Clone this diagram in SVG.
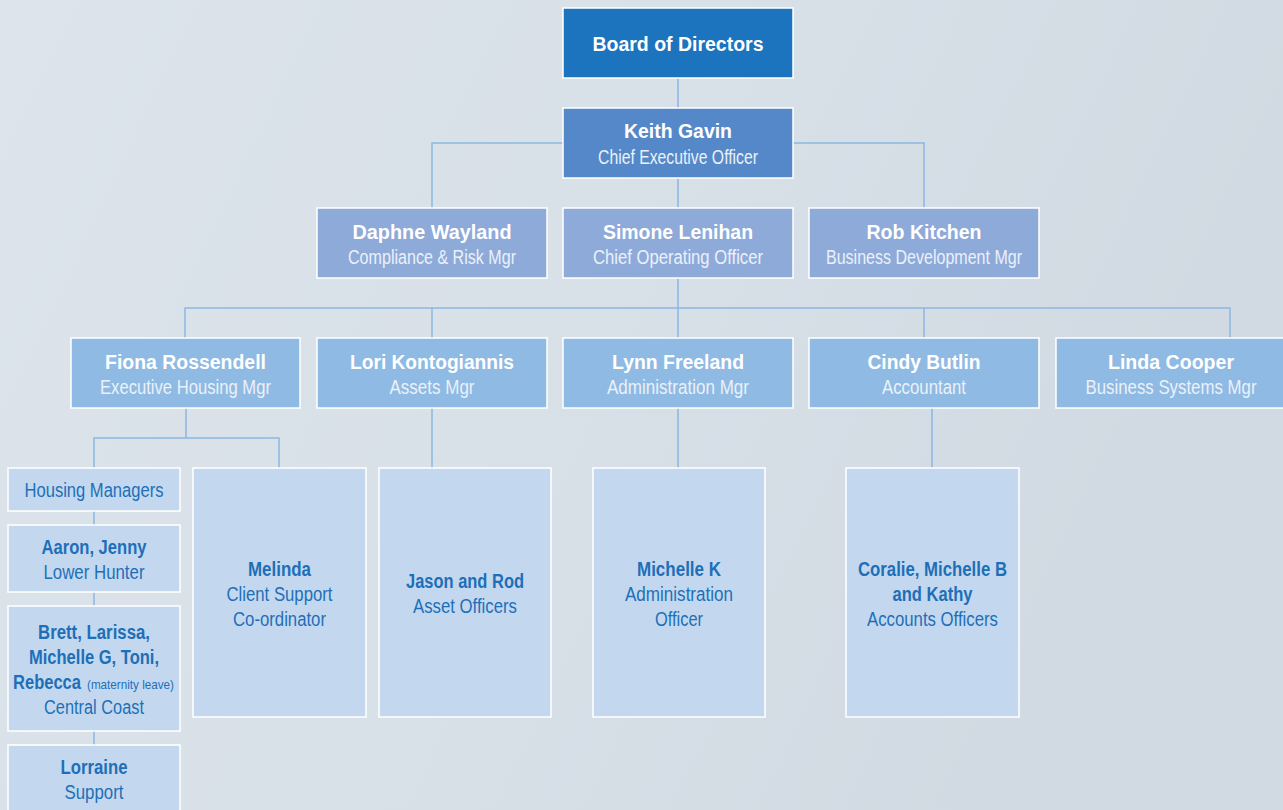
<svg xmlns="http://www.w3.org/2000/svg" width="1283" height="810" viewBox="0 0 1283 810">
  <defs>
    <linearGradient id="bg" x1="0" y1="0" x2="1" y2="0.3">
      <stop offset="0" stop-color="#dde4eb"/>
      <stop offset="0.5" stop-color="#d8e0e8"/>
      <stop offset="1" stop-color="#d1dae2"/>
    </linearGradient>
    <style>
      .box { stroke: #ffffff; stroke-width: 1.5; }
      .board { fill: #1b74bd; }
      .ceo { fill: #5588c8; }
      .lvl2 { fill: #8eaad9; }
      .lvl3 { fill: #8fbae3; }
      .lvl4 { fill: #c3d8ef; }
      .conn { stroke: #8ab6e2; stroke-width: 1.5; fill: none; }
      .name { font-family: "Liberation Sans", Arial, sans-serif; font-weight: bold; font-size: 19.5px; fill: #ffffff; text-anchor: middle; }
      .role { font-family: "Liberation Sans", Arial, sans-serif; font-size: 20px; fill: #eaf1f9; text-anchor: middle; }
      .bname { font-family: "Liberation Sans", Arial, sans-serif; font-weight: bold; font-size: 20px; fill: #1e6fb8; text-anchor: middle; }
      .brole { font-family: "Liberation Sans", Arial, sans-serif; font-size: 20px; fill: #1e6fb8; text-anchor: middle; }
      .note { font-family: "Liberation Sans", Arial, sans-serif; font-size: 13px; fill: #1e6fb8; }
    </style>
  </defs>

  <rect x="0" y="0" width="1283" height="810" fill="url(#bg)"/>

  <!-- connectors -->
  <g id="connectors" class="conn">
    <path d="M678 78 V108"/>
    <path d="M563 143 H432 V208"/>
    <path d="M793 143 H924 V208"/>
    <path d="M678 178 V208"/>
    <path d="M678 278 V338"/>
    <path d="M185 338 V308 H1230 V338"/>
    <path d="M432 308 V338"/>
    <path d="M924 308 V338"/>
    <path d="M186 408 V438"/>
    <path d="M94 468 V438 H279 V468"/>
    <path d="M94 511 V525"/>
    <path d="M94 592 V606"/>
    <path d="M94 731 V745"/>
    <path d="M432 408 V468"/>
    <path d="M678 408 V468"/>
    <path d="M932 408 V468"/>
  </g>

  <g id="board">
    <rect class="box board" x="563" y="8" width="230" height="70"/>
    <text class="name" x="678" y="51" textLength="171" lengthAdjust="spacingAndGlyphs">Board of Directors</text>
  </g>

  <g id="keith-gavin">
    <rect class="box ceo" x="563" y="108" width="230" height="70"/>
    <text class="name" x="678" y="138" textLength="108" lengthAdjust="spacingAndGlyphs">Keith Gavin</text>
    <text class="role" x="678" y="164" textLength="160" lengthAdjust="spacingAndGlyphs">Chief Executive Officer</text>
  </g>

  <g id="daphne-wayland">
    <rect class="box lvl2" x="317" y="208" width="230" height="70"/>
    <text class="name" x="432" y="239" textLength="159" lengthAdjust="spacingAndGlyphs">Daphne Wayland</text>
    <text class="role" x="432" y="264" textLength="168" lengthAdjust="spacingAndGlyphs">Compliance &amp; Risk Mgr</text>
  </g>

  <g id="simone-lenihan">
    <rect class="box lvl2" x="563" y="208" width="230" height="70"/>
    <text class="name" x="678" y="239" textLength="150" lengthAdjust="spacingAndGlyphs">Simone Lenihan</text>
    <text class="role" x="678" y="264" textLength="170" lengthAdjust="spacingAndGlyphs">Chief Operating Officer</text>
  </g>

  <g id="rob-kitchen">
    <rect class="box lvl2" x="809" y="208" width="230" height="70"/>
    <text class="name" x="924" y="239" textLength="115" lengthAdjust="spacingAndGlyphs">Rob Kitchen</text>
    <text class="role" x="924" y="264" textLength="196" lengthAdjust="spacingAndGlyphs">Business Development Mgr</text>
  </g>

  <g id="fiona-rossendell">
    <rect class="box lvl3" x="71" y="338" width="229" height="70"/>
    <text class="name" x="185.5" y="369" textLength="161" lengthAdjust="spacingAndGlyphs">Fiona Rossendell</text>
    <text class="role" x="185.5" y="394" textLength="171" lengthAdjust="spacingAndGlyphs">Executive Housing Mgr</text>
  </g>

  <g id="lori-kontogiannis">
    <rect class="box lvl3" x="317" y="338" width="230" height="70"/>
    <text class="name" x="432" y="369" textLength="164" lengthAdjust="spacingAndGlyphs">Lori Kontogiannis</text>
    <text class="role" x="432" y="394" textLength="85" lengthAdjust="spacingAndGlyphs">Assets Mgr</text>
  </g>

  <g id="lynn-freeland">
    <rect class="box lvl3" x="563" y="338" width="230" height="70"/>
    <text class="name" x="678" y="369" textLength="132" lengthAdjust="spacingAndGlyphs">Lynn Freeland</text>
    <text class="role" x="678" y="394" textLength="142" lengthAdjust="spacingAndGlyphs">Administration Mgr</text>
  </g>

  <g id="cindy-butlin">
    <rect class="box lvl3" x="809" y="338" width="230" height="70"/>
    <text class="name" x="924" y="369" textLength="113" lengthAdjust="spacingAndGlyphs">Cindy Butlin</text>
    <text class="role" x="924" y="394" textLength="84" lengthAdjust="spacingAndGlyphs">Accountant</text>
  </g>

  <!-- this box runs off the right edge of the page -->
  <g id="linda-cooper">
    <rect class="box lvl3" x="1056" y="338" width="228" height="70"/>
    <text class="name" x="1171" y="369" textLength="126" lengthAdjust="spacingAndGlyphs">Linda Cooper</text>
    <text class="role" x="1171" y="394" textLength="171" lengthAdjust="spacingAndGlyphs">Business Systems Mgr</text>
  </g>

  <g id="housing-managers">
    <rect class="box lvl4" x="8" y="468" width="172" height="43"/>
    <text class="brole" x="94" y="497" textLength="139" lengthAdjust="spacingAndGlyphs">Housing Managers</text>
  </g>

  <g id="lower-hunter">
    <rect class="box lvl4" x="8" y="525" width="172" height="67"/>
    <text class="bname" x="94" y="554" textLength="105" lengthAdjust="spacingAndGlyphs">Aaron, Jenny</text>
    <text class="brole" x="94" y="579" textLength="101" lengthAdjust="spacingAndGlyphs">Lower Hunter</text>
  </g>

  <g id="central-coast">
    <rect class="box lvl4" x="8" y="606" width="172" height="125"/>
    <text class="bname" x="94" y="639" textLength="112" lengthAdjust="spacingAndGlyphs">Brett, Larissa,</text>
    <text class="bname" x="94" y="664" textLength="130" lengthAdjust="spacingAndGlyphs">Michelle G, Toni,</text>
    <text class="bname" x="13" y="689" style="text-anchor:start" textLength="68" lengthAdjust="spacingAndGlyphs">Rebecca</text>
    <text class="note" x="87" y="689" textLength="87" lengthAdjust="spacingAndGlyphs">(maternity leave)</text>
    <text class="brole" x="94" y="714" textLength="100" lengthAdjust="spacingAndGlyphs">Central Coast</text>
  </g>

  <g id="support">
    <rect class="box lvl4" x="8" y="745" width="172" height="80"/>
    <text class="bname" x="94" y="774" textLength="67" lengthAdjust="spacingAndGlyphs">Lorraine</text>
    <text class="brole" x="94" y="799" textLength="59" lengthAdjust="spacingAndGlyphs">Support</text>
  </g>

  <g id="melinda">
    <rect class="box lvl4" x="193" y="468" width="173" height="249"/>
    <text class="bname" x="279.5" y="576" textLength="63" lengthAdjust="spacingAndGlyphs">Melinda</text>
    <text class="brole" x="279.5" y="601" textLength="106" lengthAdjust="spacingAndGlyphs">Client Support</text>
    <text class="brole" x="279.5" y="626" textLength="93" lengthAdjust="spacingAndGlyphs">Co-ordinator</text>
  </g>

  <g id="asset-officers">
    <rect class="box lvl4" x="379" y="468" width="172" height="249"/>
    <text class="bname" x="465" y="588" textLength="118" lengthAdjust="spacingAndGlyphs">Jason and Rod</text>
    <text class="brole" x="465" y="613" textLength="104" lengthAdjust="spacingAndGlyphs">Asset Officers</text>
  </g>

  <g id="administration-officer">
    <rect class="box lvl4" x="593" y="468" width="172" height="249"/>
    <text class="bname" x="679" y="576" textLength="84" lengthAdjust="spacingAndGlyphs">Michelle K</text>
    <text class="brole" x="679" y="601" textLength="108" lengthAdjust="spacingAndGlyphs">Administration</text>
    <text class="brole" x="679" y="626" textLength="48" lengthAdjust="spacingAndGlyphs">Officer</text>
  </g>

  <g id="accounts-officers">
    <rect class="box lvl4" x="846" y="468" width="173" height="249"/>
    <text class="bname" x="932.5" y="576" textLength="149" lengthAdjust="spacingAndGlyphs">Coralie, Michelle B</text>
    <text class="bname" x="932.5" y="601" textLength="80" lengthAdjust="spacingAndGlyphs">and Kathy</text>
    <text class="brole" x="932.5" y="626" textLength="131" lengthAdjust="spacingAndGlyphs">Accounts Officers</text>
  </g>
</svg>
